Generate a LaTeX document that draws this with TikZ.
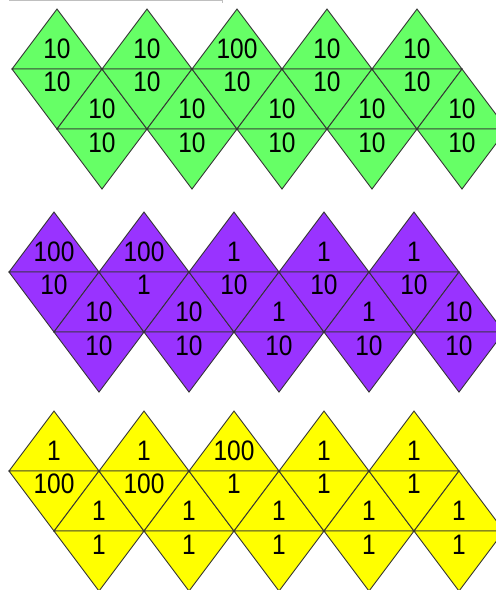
\documentclass[tikz,border=0pt]{standalone}
\usepackage{fontspec}
\setmainfont{Liberation Sans}

\definecolor{netgreen}{HTML}{66FF66}
\definecolor{netpurple}{HTML}{9933FF}
\definecolor{netyellow}{HTML}{FFFF00}

% #1 name, #2 left x, #3 top y, #4 colour, #5-#8 the four rows of labels
\newcommand{\drawnet}[8]{%
  \begin{scope}[shift={(#2,#3)}]
    \foreach \k in {0,...,4} {
      \draw[face,fill=#4] ({45+90*\k},0) -- ({90*\k},60) -- ({90+90*\k},60) -- cycle;
      \draw[face,fill=#4] ({90*\k},60) -- ({90+90*\k},60) -- ({45+90*\k},120) -- cycle;
      \draw[face,fill=#4] ({90+90*\k},60) -- ({45+90*\k},120) -- ({135+90*\k},120) -- cycle;
      \draw[face,fill=#4] ({45+90*\k},120) -- ({135+90*\k},120) -- ({90+90*\k},180) -- cycle;
    }
    \foreach \t [count=\k from 0] in {#5}
      \node[num] (#1-a\k) at ({45+90*\k},40) {\scalebox{1}[1.15]{\t}};
    \foreach \t [count=\k from 0] in {#6}
      \node[num] (#1-b\k) at ({45+90*\k},73) {\scalebox{1}[1.15]{\t}};
    \foreach \t [count=\k from 0] in {#7}
      \node[num] (#1-c\k) at ({90+90*\k},100) {\scalebox{1}[1.15]{\t}};
    \foreach \t [count=\k from 0] in {#8}
      \node[num] (#1-d\k) at ({90+90*\k},134) {\scalebox{1}[1.15]{\t}};
  \end{scope}}

\begin{document}
\begin{tikzpicture}[x=1pt,y=-1pt,
    face/.style={draw=black!80,line width=0.9pt,line join=miter},
    num/.style={inner sep=0pt,font=\fontsize{24.5}{24.5}\selectfont}]
  \useasboundingbox (0,0) rectangle (496,590);
  \clip (0,0) rectangle (496,590);

  \draw[gray!50,line width=1pt] (9,0.6) -- (222,0.6) -- (222,2.5);

  \drawnet{green}{12}{9}{netgreen}%
    {10,10,100,10,10}{10,10,10,10,10}{10,10,10,10,10}{10,10,10,10,10}
  \drawnet{purple}{9}{212}{netpurple}%
    {100,100,1,1,1}{10,1,10,10,10}{10,10,1,1,10}{10,10,10,10,10}
  \drawnet{yellow}{9}{411}{netyellow}%
    {1,1,100,1,1}{100,100,1,1,1}{1,1,1,1,1}{1,1,1,1,1}
\end{tikzpicture}
\end{document}
